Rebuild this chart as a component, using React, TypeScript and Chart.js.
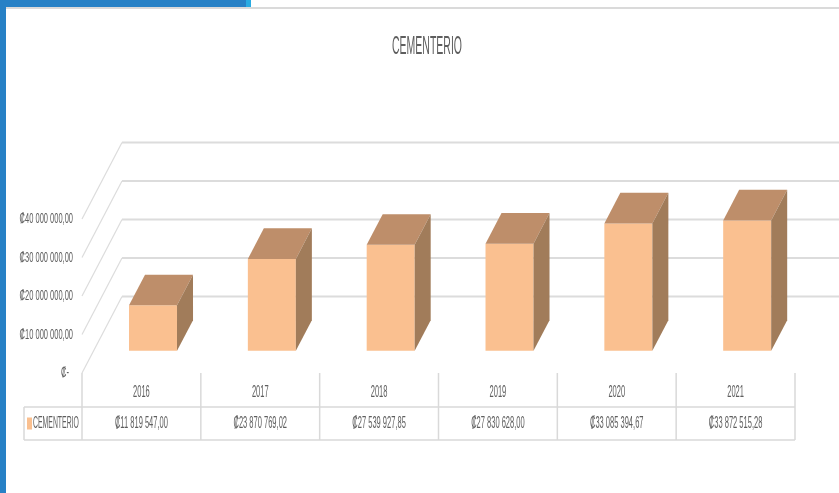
import React, { useEffect, useRef } from "react";
import { Chart, registerables } from "chart.js";

Chart.register(...registerables);

const title = "CEMENTERIO";
const seriesName = "CEMENTERIO";
const years = ["2016", "2017", "2018", "2019", "2020", "2021"];
const values = [11819547.0, 23870769.02, 27539927.85, 27830628.0, 33085394.67, 33872515.28];
const yTicks = [0, 10000000, 20000000, 30000000, 40000000];
const yTickLabels = ["₡-", "₡10 000 000,00", "₡20 000 000,00", "₡30 000 000,00", "₡40 000 000,00"];

const FRONT_COLOR = "#FAC090";
const TOP_COLOR = "#BE8E6A";
const SIDE_COLOR = "#A17C5A";
const GRID = "#DCDCDC";
const TABLE_LINE = "#D9D9D9";
const TEXT = "#5E5E5E";
const FONT = '"Liberation Sans", Arial, sans-serif';

// depth vector of the 3D box (full floor depth)
const DEPTH_X = 40;
const DEPTH_Y = -76.5;
const BAR_FRONT = 0.29;
const BAR_BACK = 0.69;

function fmtMoney(v: number): string {
  const [i, d] = v.toFixed(2).split(".");
  const g = i.replace(/\B(?=(\d{3})+(?!\d))/g, " ");
  return "₡" + g + "," + d;
}

function drawText(
  ctx: CanvasRenderingContext2D,
  str: string,
  x: number,
  y: number,
  size: number,
  sx: number,
  align: CanvasTextAlign
) {
  ctx.save();
  ctx.font = `${size}px ${FONT}`;
  ctx.fillStyle = TEXT;
  ctx.textBaseline = "middle";
  ctx.textAlign = align;
  ctx.translate(x, y);
  ctx.scale(sx, 1);
  ctx.fillText(str, 0, 0);
  ctx.restore();
}

const bar3d = {
  id: "bar3d",
  beforeDatasetsDraw(chart: any) {
    const { ctx, chartArea, scales } = chart;
    const y = scales.y;
    ctx.save();
    ctx.strokeStyle = GRID;
    yTicks.forEach((v) => {
      const yf = y.getPixelForValue(v);
      const yb = yf + DEPTH_Y;
      ctx.lineWidth = 1.2;
      ctx.beginPath();
      ctx.moveTo(chartArea.left, yf);
      ctx.lineTo(chartArea.left + DEPTH_X, yb);
      ctx.stroke();
      ctx.lineWidth = 2;
      ctx.beginPath();
      ctx.moveTo(chartArea.left + DEPTH_X, yb);
      ctx.lineTo(chart.width, yb);
      ctx.stroke();
    });
    ctx.restore();
    ctx.save();
    ctx.translate(DEPTH_X * BAR_FRONT, DEPTH_Y * BAR_FRONT);
  },
  afterDatasetsDraw(chart: any) {
    const { ctx, chartArea, scales } = chart;
    ctx.restore();
    const fx = DEPTH_X * BAR_FRONT;
    const fy = DEPTH_Y * BAR_FRONT;
    const dx = DEPTH_X * (BAR_BACK - BAR_FRONT);
    const dy = DEPTH_Y * (BAR_BACK - BAR_FRONT);
    const meta = chart.getDatasetMeta(0);
    meta.data.forEach((bar: any) => {
      const p = bar.getProps(["x", "y", "base", "width"], true);
      const l = p.x - p.width / 2 + fx;
      const r = p.x + p.width / 2 + fx;
      const t = p.y + fy;
      const b = p.base + fy;
      ctx.save();
      ctx.fillStyle = TOP_COLOR;
      ctx.beginPath();
      ctx.moveTo(l, t);
      ctx.lineTo(r, t);
      ctx.lineTo(r + dx, t + dy);
      ctx.lineTo(l + dx, t + dy);
      ctx.closePath();
      ctx.fill();
      ctx.fillStyle = SIDE_COLOR;
      ctx.beginPath();
      ctx.moveTo(r, t);
      ctx.lineTo(r + dx, t + dy);
      ctx.lineTo(r + dx, b + dy);
      ctx.lineTo(r, b);
      ctx.closePath();
      ctx.fill();
      ctx.restore();
    });

    // y axis labels (front plane)
    const y = scales.y;
    yTicks.forEach((v, i) => {
      const yy = y.getPixelForValue(v);
      drawText(ctx, yTickLabels[i], v === 0 ? 69 : 73, yy, 15, 0.5, "right");
    });

    // data table
    const x = scales.x;
    const step = x.getPixelForValue(1) - x.getPixelForValue(0);
    const bounds: number[] = [];
    for (let i = 0; i <= years.length; i++) {
      bounds.push(x.getPixelForValue(0) - step / 2 + i * step);
    }
    const top = chartArea.bottom;
    const mid = top + 34;
    const bot = top + 67;
    const legendLeft = 24;
    ctx.save();
    ctx.strokeStyle = TABLE_LINE;
    ctx.lineWidth = 1.5;
    ctx.beginPath();
    bounds.forEach((bx) => {
      ctx.moveTo(bx, top);
      ctx.lineTo(bx, bot);
    });
    ctx.moveTo(legendLeft, mid);
    ctx.lineTo(bounds[bounds.length - 1], mid);
    ctx.moveTo(legendLeft, bot);
    ctx.lineTo(bounds[bounds.length - 1], bot);
    ctx.moveTo(legendLeft, mid);
    ctx.lineTo(legendLeft, bot);
    ctx.stroke();
    ctx.restore();

    years.forEach((yr, i) => {
      const cx = x.getPixelForValue(i);
      drawText(ctx, yr, cx, (top + mid) / 2 + 3, 16, 0.47, "center");
      drawText(ctx, fmtMoney(values[i]), cx, (mid + bot) / 2, 16, 0.47, "center");
    });
    ctx.save();
    ctx.fillStyle = FRONT_COLOR;
    ctx.fillRect(27, (mid + bot) / 2 - 6, 5, 12);
    ctx.restore();
    drawText(ctx, seriesName, 33, (mid + bot) / 2, 16, 0.43, "left");

    // title
    drawText(ctx, title, 427, 47, 25, 0.42, "center");
  },
};

export default function App() {
  const ref = useRef<HTMLCanvasElement>(null);
  useEffect(() => {
    if (!ref.current) return;
    const chart = new Chart(ref.current, {
      type: "bar",
      data: {
        labels: years,
        datasets: [
          {
            label: seriesName,
            data: values,
            backgroundColor: FRONT_COLOR,
            borderWidth: 0,
            barPercentage: 0.404,
            categoryPercentage: 1,
            clip: false as any,
          },
        ],
      },
      options: {
        responsive: false,
        animation: false,
        layout: { padding: { left: 82, right: 44, top: 219, bottom: 120 } },
        plugins: {
          legend: { display: false },
          title: { display: false },
          tooltip: { enabled: false },
        },
        scales: {
          x: { display: false, offset: true },
          y: { display: false, min: 0, max: 40000000 },
        },
      },
      plugins: [bar3d],
    });
    return () => chart.destroy();
  }, []);

  return (
    <div
      style={{
        position: "fixed",
        left: 0,
        top: 0,
        width: 839,
        height: 493,
        background: "#fff",
        overflow: "hidden",
      }}
    >
      <canvas ref={ref} width={839} height={493} style={{ display: "block" }} />
      <div style={{ position: "absolute", left: 6, top: 7, width: 833, height: 2, background: "#DADADA" }} />
      <div style={{ position: "absolute", left: 0, top: 0, width: 246, height: 7, background: "#2781C6" }} />
      <div style={{ position: "absolute", left: 246, top: 0, width: 5, height: 7, background: "#29ABE2" }} />
      <div style={{ position: "absolute", left: 0, top: 0, width: 6, height: 493, background: "#2781C6" }} />
    </div>
  );
}
